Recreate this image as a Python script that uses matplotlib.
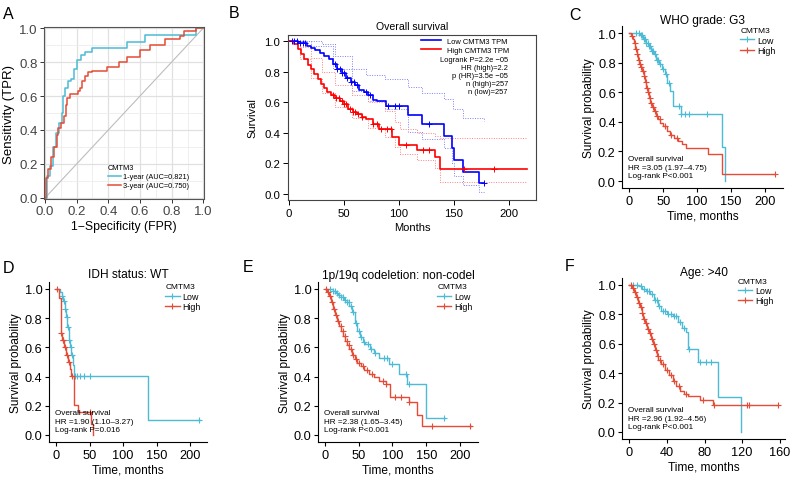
import matplotlib
matplotlib.use('Agg')
import matplotlib.pyplot as plt
from matplotlib.lines import Line2D
import numpy as np

plt.rcParams['font.family'] = ['Liberation Sans', 'DejaVu Sans']

W, H = 791, 481
CYAN = '#4DBBD5'
RED = '#E64B35'

# ---------------- data ----------------
# A: ROC curves (step points)
fpr1 = [0.0, 0.01, 0.03, 0.05, 0.07, 0.09, 0.105, 0.115, 0.125, 0.145, 0.165, 0.185, 0.205, 0.225, 0.255, 0.3, 0.52, 0.63, 0.955, 1.0]
tpr1 = [0.0, 0.13, 0.19, 0.3, 0.38, 0.44, 0.5, 0.6, 0.65, 0.69, 0.7, 0.76, 0.81, 0.84, 0.86, 0.885, 0.92, 0.96, 1.0, 1.0]
fpr3 = [0.0, 0.005, 0.02, 0.04, 0.06, 0.075, 0.085, 0.1, 0.12, 0.13, 0.14, 0.155, 0.21, 0.22, 0.235, 0.25, 0.27, 0.3, 0.39, 0.47, 0.52, 0.6, 0.66, 0.76, 0.85, 0.88, 0.955, 1.0]
tpr3 = [0.0, 0.12, 0.17, 0.24, 0.3, 0.37, 0.41, 0.44, 0.48, 0.55, 0.59, 0.61, 0.63, 0.65, 0.69, 0.72, 0.74, 0.75, 0.77, 0.8, 0.83, 0.87, 0.9, 0.935, 0.955, 0.985, 1.0, 1.0]
roc_labels = ['1-year (AUC=0.821)', '3-year (AUC=0.750)']

# B: GEPIA overall survival
b_low_t = [0, 8, 12, 16, 20, 24, 28, 32, 36, 40, 44, 48, 52, 56, 60, 64, 68, 72, 76, 80, 88, 108, 121, 141, 148, 150, 158, 173, 177]
b_low_s = [1.0, 0.99, 0.985, 0.97, 0.955, 0.94, 0.925, 0.905, 0.88, 0.85, 0.82, 0.79, 0.76, 0.735, 0.71, 0.68, 0.665, 0.645, 0.615, 0.605, 0.575, 0.516, 0.458, 0.381, 0.30, 0.22, 0.146, 0.072, 0.072]
b_low_c = [3, 5, 7, 10, 13, 15, 42, 44, 46, 48, 50, 53, 56, 59, 62, 70, 74, 90, 96, 100, 127, 177]
b_high_t = [0, 5, 8, 11, 14, 17, 20, 23, 26, 29, 32, 35, 38, 42, 46, 50, 54, 58, 62, 66, 70, 76, 82, 94, 100, 116, 133, 137, 216]
b_high_s = [1.0, 0.98, 0.95, 0.915, 0.88, 0.845, 0.815, 0.785, 0.755, 0.72, 0.69, 0.665, 0.645, 0.625, 0.61, 0.59, 0.555, 0.535, 0.52, 0.505, 0.49, 0.46, 0.425, 0.37, 0.32, 0.29, 0.24, 0.163, 0.163]
b_high_c = [40, 43, 45, 48, 50, 52, 55, 58, 60, 63, 66, 76, 80, 84, 89, 93, 106, 122, 127, 159, 186]
b_lowup_t = [0, 30, 42, 57, 70, 87, 108, 121, 141, 149, 158, 177]
b_lowup_s = [1.0, 0.98, 0.9, 0.82, 0.78, 0.75, 0.7, 0.66, 0.62, 0.555, 0.5, 0.475]
b_lowlo_t = [0, 20, 40, 57, 72, 87, 108, 121, 141, 148, 150, 158, 173, 177]
b_lowlo_s = [1.0, 0.97, 0.82, 0.675, 0.61, 0.556, 0.405, 0.36, 0.3, 0.2, 0.12, 0.055, 0.01, 0.01]
b_highci_t = [0, 10, 20, 30, 42, 57, 72, 87, 96, 101, 116, 133, 137, 216]
b_highup_s = [1.0, 0.96, 0.89, 0.8, 0.71, 0.65, 0.6, 0.54, 0.47, 0.425, 0.4, 0.38, 0.364, 0.364]
b_highlo_s = [1.0, 0.88, 0.76, 0.66, 0.57, 0.5, 0.43, 0.37, 0.31, 0.26, 0.22, 0.17, 0.076, 0.076]
b_stats = ['Logrank P=2.2e \u221205', 'HR (high)=2.2', 'p (HR)=3.5e \u221205', 'n (high)=257', 'n (low)=257']

# C: WHO grade G3
c_low_t = [0, 16, 20, 24, 28, 32, 36, 40, 44, 48, 52, 56, 60, 64, 76, 137, 142]
c_low_s = [1.0, 0.985, 0.96, 0.935, 0.91, 0.88, 0.855, 0.82, 0.79, 0.755, 0.72, 0.665, 0.61, 0.51, 0.455, 0.23, 0.0]
c_low_c = [10, 14, 17, 19, 21, 23, 25, 27, 29, 31, 33, 35, 38, 41, 43, 46, 50, 54, 58, 73, 77, 82, 88, 115]
c_high_t = [0, 3, 5, 7, 9, 11, 13, 15, 17, 19, 21, 23, 25, 27, 29, 31, 33, 36, 39, 42, 46, 50, 55, 60, 66, 72, 78, 84, 117, 137, 216]
c_high_s = [1.0, 0.98, 0.96, 0.93, 0.89, 0.86, 0.82, 0.79, 0.77, 0.74, 0.71, 0.67, 0.63, 0.6, 0.56, 0.53, 0.5, 0.47, 0.44, 0.42, 0.39, 0.37, 0.34, 0.31, 0.29, 0.27, 0.25, 0.22, 0.18, 0.045, 0.045]
c_high_c = [4, 8, 10, 12, 14, 16, 18, 20, 22, 24, 26, 28, 30, 32, 35, 38, 41, 45, 52, 62, 70, 216]

# D: IDH status WT
d_low_t = [0, 6, 9, 11, 13, 15, 17, 19, 21, 23, 25, 27, 138, 215]
d_low_s = [1.0, 0.98, 0.955, 0.92, 0.86, 0.81, 0.74, 0.65, 0.6, 0.545, 0.48, 0.405, 0.103, 0.103]
d_low_c = [9, 12, 14, 16, 18, 20, 22, 24, 29, 32, 36, 42, 51, 213]
d_high_t = [0, 4, 7, 9, 12, 15, 18, 21, 23, 27, 33, 52, 55]
d_high_s = [1.0, 0.935, 0.70, 0.65, 0.6, 0.545, 0.5, 0.45, 0.405, 0.205, 0.155, 0.075, 0.0]
d_high_c = [2, 8, 10, 11, 13, 16, 19, 24, 50]

# E: 1p/19q non-codel
e_low_t = [0, 12, 16, 20, 24, 28, 32, 36, 40, 44, 48, 52, 56, 60, 66, 72, 80, 95, 109, 122, 150, 178]
e_low_s = [1.0, 0.985, 0.975, 0.96, 0.945, 0.925, 0.91, 0.885, 0.84, 0.77, 0.71, 0.67, 0.64, 0.62, 0.59, 0.565, 0.53, 0.486, 0.418, 0.35, 0.115, 0.115]
e_low_c = [8, 12, 15, 18, 21, 24, 27, 30, 33, 35, 38, 42, 46, 50, 54, 58, 63, 68, 74, 88, 92, 100, 120, 125, 176]
e_high_t = [0, 3, 6, 9, 12, 15, 18, 21, 24, 27, 30, 33, 36, 40, 44, 48, 53, 58, 65, 72, 80, 90, 97, 124, 136, 143, 216]
e_high_s = [1.0, 0.98, 0.955, 0.91, 0.86, 0.82, 0.78, 0.75, 0.71, 0.68, 0.645, 0.615, 0.59, 0.55, 0.52, 0.495, 0.47, 0.445, 0.42, 0.395, 0.37, 0.35, 0.26, 0.225, 0.135, 0.065, 0.065]
e_high_c = [2, 5, 8, 11, 14, 17, 20, 23, 26, 29, 32, 35, 38, 42, 46, 50, 56, 62, 70, 86, 90, 104, 112, 124, 158, 215]

# F: Age > 40
f_low_t = [0, 10, 14, 18, 22, 26, 30, 34, 40, 46, 52, 56, 60, 62, 73, 94, 119]
f_low_s = [1.0, 0.99, 0.975, 0.96, 0.94, 0.9, 0.86, 0.82, 0.805, 0.79, 0.75, 0.71, 0.68, 0.565, 0.474, 0.236, 0.0]
f_low_c = [4, 8, 12, 16, 19, 21, 24, 27, 29, 32, 36, 38, 41, 44, 47, 50, 54, 58, 64, 75, 82, 87]
f_high_t = [0, 3, 5, 7, 9, 11, 13, 15, 17, 19, 21, 23, 25, 27, 29, 31, 34, 38, 42, 46, 50, 54, 58, 62, 75, 89, 158]
f_high_s = [1.0, 0.98, 0.95, 0.92, 0.88, 0.85, 0.81, 0.77, 0.74, 0.7, 0.67, 0.63, 0.6, 0.56, 0.52, 0.49, 0.46, 0.42, 0.385, 0.35, 0.31, 0.28, 0.26, 0.245, 0.22, 0.185, 0.185]
f_high_c = [2, 4, 6, 8, 10, 12, 14, 16, 18, 20, 22, 24, 26, 28, 30, 33, 36, 40, 44, 48, 53, 60, 78, 90, 125, 127, 158]


def add_px(x0, y0, x1, y1):
    return fig.add_axes([x0 / W, 1 - y1 / H, (x1 - x0) / W, (y1 - y0) / H])


def censor_y(t, s, c):
    idx = np.searchsorted(np.asarray(t), np.asarray(c), side='right') - 1
    return np.asarray(s)[idx]


fig = plt.figure(figsize=(W / 100, H / 100), dpi=100)

# ---------------- A ----------------
ax = add_px(44, 28, 204, 200)
ax.set_xlim(-0.006, 1.004)
ax.set_ylim(-0.006, 1.006)
ticks = np.arange(0, 1.01, 0.2)
ax.set_xticks(ticks)
ax.set_yticks(ticks)
ax.set_xticks(np.arange(0.1, 1.0, 0.2), minor=True)
ax.set_yticks(np.arange(0.1, 1.0, 0.2), minor=True)
ax.set_xticklabels(['%.1f' % v for v in ticks])
ax.set_yticklabels(['%.1f' % v for v in ticks])
ax.set_axisbelow(True)
ax.grid(which='major', color='#E0E0E0', lw=0.9)
ax.grid(which='minor', color='#ECECEC', lw=0.6)
ax.tick_params(which='minor', length=0)
ax.tick_params(which='major', length=3, width=0.7, color='#333333', labelsize=9.5,
               labelcolor='#444444', pad=1.5)
for sp in ax.spines.values():
    sp.set_color('#555555')
    sp.set_linewidth(0.8)
ax.plot([0, 1], [0, 1], color='#BDBDBD', lw=0.8)
ax.step(fpr1, tpr1, where='post', color=CYAN, lw=1.1)
ax.step(fpr3, tpr3, where='post', color=RED, lw=1.1)
ax.set_xlabel('1\u2212Specificity (FPR)', fontsize=8.8, labelpad=2)
ax.set_ylabel('Sensitivity (TPR)', fontsize=9.5, labelpad=3)
hA = [Line2D([], [], color=CYAN, lw=1.1), Line2D([], [], color=RED, lw=1.1)]
ax.legend(hA, roc_labels, title='CMTM3', loc='upper left', bbox_to_anchor=(0.4, 0.205),
          frameon=False, fontsize=5.3, title_fontsize=5.3, alignment='left',
          handlelength=1.7, handletextpad=0.4, labelspacing=0.3, borderpad=0,
          borderaxespad=0)

# ---------------- B ----------------
ax = add_px(288, 36, 536, 201)
ax.set_xlim(-0.9, 224.5)
ax.set_ylim(-0.04, 1.04)
ax.set_xticks([0, 50, 100, 150, 200])
yt = np.arange(0, 1.01, 0.2)
ax.set_yticks(yt)
ax.set_yticklabels(['%.1f' % v for v in yt])
ax.tick_params(direction='out', length=3.5, width=0.7, labelsize=8.2, pad=2)
for sp in ax.spines.values():
    sp.set_color('#444444')
    sp.set_linewidth(0.8)
ax.step(b_lowup_t, b_lowup_s, where='post', color='#7F7FFF', lw=0.7, ls=(0, (1, 1.5)))
ax.step(b_lowlo_t, b_lowlo_s, where='post', color='#7F7FFF', lw=0.7, ls=(0, (1, 1.5)))
ax.step(b_highci_t, b_highup_s, where='post', color='#FF8080', lw=0.7, ls=(0, (1, 1.5)))
ax.step(b_highci_t, b_highlo_s, where='post', color='#FF8080', lw=0.7, ls=(0, (1, 1.5)))
ax.step(b_low_t, b_low_s, where='post', color='#0000FF', lw=1.2)
ax.step(b_high_t, b_high_s, where='post', color='#FF0000', lw=1.2)
ax.plot(b_low_c, censor_y(b_low_t, b_low_s, b_low_c), ls='none', marker='+',
        color='#0000FF', ms=4, mew=0.7)
ax.plot(b_high_c, censor_y(b_high_t, b_high_s, b_high_c), ls='none', marker='+',
        color='#FF0000', ms=4, mew=0.7)
ax.set_title('Overall survival', fontsize=7.6, pad=4)
ax.set_xlabel('Months', fontsize=8, labelpad=3)
ax.set_ylabel('Survival', fontsize=8, labelpad=5)
hB = [Line2D([], [], color='#0000FF', lw=1.2), Line2D([], [], color='#FF0000', lw=1.2)]
ax.legend(hB, ['Low CMTM3 TPM', 'High CMTM3 TPM'], loc='upper left',
          bbox_to_anchor=(0.535, 0.985), frameon=False, fontsize=5.4,
          handlelength=2.7, handletextpad=0.8, labelspacing=0.25, borderpad=0,
          borderaxespad=0)
ax.text(0.887, 0.875, '\n'.join(b_stats), transform=ax.transAxes, ha='right', va='top',
        multialignment='right', fontsize=5.4, linespacing=1.2)


# ---------------- C-F ----------------
def km_panel(box, tmax, xticks, title, tpad, hr, pval, leg_xy,
             low_t, low_s, low_c, high_t, high_s, high_c):
    ax = add_px(*box)
    ax.set_xlim(-0.05 * tmax, 1.05 * tmax)
    ax.set_ylim(-0.05, 1.05)
    ax.set_xticks(xticks)
    ax.set_yticks(yt)
    ax.set_yticklabels(['%.1f' % v for v in yt])
    ax.spines['top'].set_visible(False)
    ax.spines['right'].set_visible(False)
    for k in ('left', 'bottom'):
        ax.spines[k].set_linewidth(0.8)
    ax.tick_params(length=3, width=0.8, labelsize=9.2, pad=1.5)
    for t, s, c, col in ((low_t, low_s, low_c, CYAN), (high_t, high_s, high_c, RED)):
        ax.step(t, s, where='post', color=col, lw=1.0)
        ax.plot(c, censor_y(t, s, c), ls='none', marker='+', color=col, ms=5, mew=0.8)
    ax.set_title(title, fontsize=8.6, pad=tpad)
    ax.set_xlabel('Time, months', fontsize=8.6, labelpad=2)
    ax.set_ylabel('Survival probability', fontsize=8.6, labelpad=2)
    ax.text(0.04, 0.13, 'Overall survival\n' + hr + '\nLog-rank ' + pval,
            transform=ax.transAxes, ha='left', va='center', fontsize=5.9, linespacing=1.3)
    hh = [Line2D([], [], color=CYAN, lw=1.0, marker='+', ms=5, mew=0.8),
          Line2D([], [], color=RED, lw=1.0, marker='+', ms=5, mew=0.8)]
    ax.legend(hh, ['Low', 'High'], title='CMTM3', loc='upper left', bbox_to_anchor=leg_xy,
              frameon=False, fontsize=6.4, title_fontsize=6.0, alignment='left',
              handlelength=1.6, handletextpad=0.3, labelspacing=0.15, borderpad=0,
              borderaxespad=0)
    return ax


km_panel((622, 26.6, 782.8, 189.4), 216, [0, 50, 100, 150, 200], 'WHO grade: G3', 1.5,
         'HR =3.05 (1.97\u20134.75)', 'P<0.001', (0.735, 0.99),
         c_low_t, c_low_s, c_low_c, c_high_t, c_high_s, c_high_c)
km_panel((48.8, 282.7, 207.3, 443.3), 215, [0, 50, 100, 150, 200], 'IDH status: WT', 3.5,
         'HR =1.90 (1.10\u20133.27)', 'P=0.016', (0.735, 0.99),
         d_low_t, d_low_s, d_low_c, d_high_t, d_high_s, d_high_c)
km_panel((317.7, 282.7, 478.1, 443.3), 216, [0, 50, 100, 150, 200],
         '1p/19q codeletion: non-codel', 2.7,
         'HR =2.38 (1.65\u20133.45)', 'P<0.001', (0.745, 0.99),
         e_low_t, e_low_s, e_low_c, e_high_t, e_high_s, e_high_c)
km_panel((621.9, 278.6, 785.3, 440.3), 158, [0, 40, 80, 120, 160], 'Age: >40', 1.0,
         'HR =2.96 (1.92\u20134.56)', 'P<0.001', (0.71, 1.0),
         f_low_t, f_low_s, f_low_c, f_high_t, f_high_s, f_high_c)

# panel letters
for lab, x, y in (('A', 3, 14.5), ('B', 229, 13.5), ('C', 569, 15),
                  ('D', 3, 268.5), ('E', 243, 267.5), ('F', 565, 266.5)):
    fig.text(x / W, 1 - y / H, lab, fontsize=11.5, ha='left', va='center')

fig.savefig('out.png', dpi=100)
